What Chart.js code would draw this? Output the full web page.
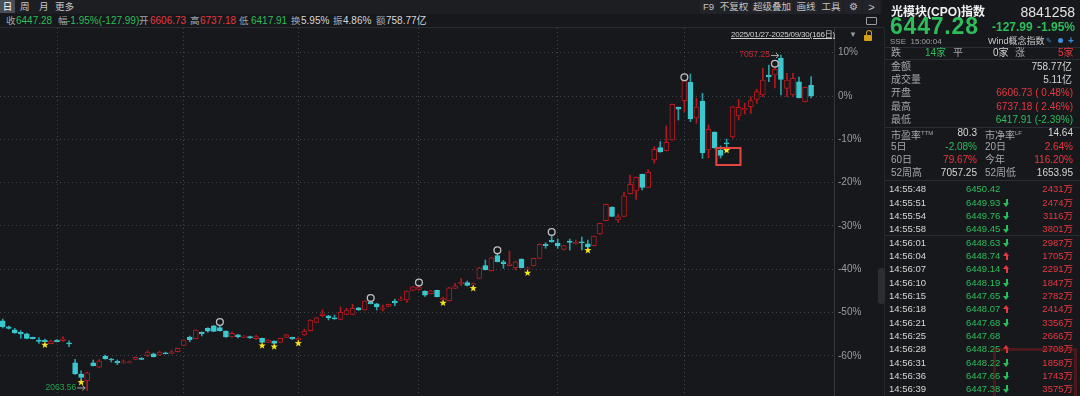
<!DOCTYPE html>
<html>
<head>
<meta charset="utf-8">
<script src="https://cdn.jsdelivr.net/npm/chart.js@4.4.1/dist/chart.umd.min.js"></script>
<style>
body { margin:0; width:1080px; height:396px; background:#16181c; overflow:hidden; position:relative;
  font-family: Arial, "Liberation Sans", "Noto Sans CJK SC", sans-serif; font-size:10px; color:#c8c8c8; }
.t { position:absolute; white-space:nowrap; line-height:12px; }
.red { color:#e8383f; } .grn { color:#2dbd5a; } .lab { color:#a4a6ab; } .val { color:#d6d6d6; }
.sep { position:absolute; height:1px; background:#2a2d33; }
.btn { position:absolute; top:0; height:14px; line-height:14px; background:#212328; color:#c4c4c4; text-align:center; font-size:9.5px; }
#wrap { position:absolute; left:0; top:28px; width:880px; height:368px; }
#trades .t { font-size:9.5px; }
.ar { position:absolute; width:0; height:0; border-left:3.5px solid transparent; border-right:3.5px solid transparent; }
.st { position:absolute; width:2px; height:4px; }
</style>
</head>
<body>
<!-- top bar -->
<div style="position:absolute;left:0;top:0;width:882px;height:14px;background:#1c1e22"></div>
<div class="t" style="left:0;top:0;width:15px;height:13px;line-height:13px;background:#4a4d55;color:#fff;text-align:center;font-size:9.5px">日</div>
<div class="t" style="left:20px;top:0;line-height:13px;font-size:9.5px">周</div>
<div class="t" style="left:39px;top:0;line-height:13px;font-size:9.5px">月</div>
<div class="t" style="left:55px;top:0;line-height:13px;font-size:9.5px">更多</div>
<div class="btn" style="left:700px;width:17px">F9</div>
<div class="btn" style="left:718px;width:32px">不复权</div>
<div class="btn" style="left:751px;width:42px">超级叠加</div>
<div class="btn" style="left:794px;width:24px">画线</div>
<div class="btn" style="left:819px;width:24px">工具</div>
<div class="btn" style="left:844px;width:18px;font-size:10px">&#9881;</div>
<div class="btn" style="left:863px;width:17px;font-size:11px">&gt;</div>
<div style="position:absolute;left:866px;top:17px;width:9px;height:6px;border:1px solid #9a9ca0;border-radius:1px"></div>

<div class="t lab" style="left:6px;top:15px;font-size:9.5px">收</div>
<div class="t grn" style="left:16px;top:15px">6447.28</div>
<div class="t lab" style="left:58px;top:15px;font-size:9.5px">幅</div>
<div class="t grn" style="left:67px;top:15px">-1.95%(-127.99)</div>
<div class="t lab" style="left:139px;top:15px;font-size:9.5px">开</div>
<div class="t red" style="left:150px;top:15px">6606.73</div>
<div class="t lab" style="left:190px;top:15px;font-size:9.5px">高</div>
<div class="t red" style="left:200px;top:15px">6737.18</div>
<div class="t lab" style="left:239px;top:15px;font-size:9.5px">低</div>
<div class="t grn" style="left:251px;top:15px">6417.91</div>
<div class="t lab" style="left:291px;top:15px;font-size:9.5px">换</div>
<div class="t val" style="left:301px;top:15px">5.95%</div>
<div class="t lab" style="left:333px;top:15px;font-size:9.5px">振</div>
<div class="t val" style="left:343px;top:15px">4.86%</div>
<div class="t lab" style="left:376px;top:15px;font-size:9.5px">额</div>
<div class="t val" style="left:386px;top:15px">758.77亿</div>
<div class="sep" style="left:0;top:27px;width:884px"></div>

<div id="wrap"><canvas id="canvas" width="880" height="368"></canvas></div>

<div class="t" style="left:731px;top:29px;font-size:8px;letter-spacing:-0.2px;color:#d2d2d2;text-decoration:underline">2025/01/27-2025/09/30(166日)</div>
<div class="t" style="left:849px;top:29px;font-size:8px;color:#9a9a9a">&#9660;</div>
<div style="position:absolute;left:864px;top:35px;width:8px;height:6px;background:#d4a017;border-radius:1px"></div>
<div style="position:absolute;left:866px;top:30px;width:4px;height:4px;border:1.5px solid #d4a017;border-bottom:none;border-radius:3px 3px 0 0"></div>

<!-- right panel -->
<div style="position:absolute;left:884px;top:28px;width:1px;height:368px;background:#24272c"></div>
<div style="position:absolute;left:878px;top:268px;width:7px;height:36px;background:#2c2e33;border-radius:3px"></div>
<div class="t" style="left:891px;top:5px;font-size:12px;line-height:14px;font-weight:bold;color:#f0f0f0">光模块(CPO)指数</div>
<div class="t" style="right:5px;top:4px;font-size:14px;line-height:16px;color:#e2e2e2">8841258</div>
<div class="t grn" style="left:890px;top:15px;font-size:23px;line-height:23px;font-weight:bold;letter-spacing:0.8px">6447.28</div>
<div class="t grn" style="left:992px;top:20px;font-size:12px;line-height:14px;font-weight:bold">-127.99</div>
<div class="t grn" style="right:5px;top:20px;font-size:12px;line-height:14px;font-weight:bold">-1.95%</div>
<div class="t" style="left:890px;top:37px;font-size:8px;line-height:10px;color:#a0a0a0">SSE&nbsp;&nbsp;15:00:04</div>
<div class="t" style="left:988px;top:36px;font-size:9px;line-height:11px;color:#c8c8c8">Wind概念指数</div>
<div class="t" style="left:1045px;top:37px;width:8px;height:8px;line-height:8px;font-size:7px;color:#3b8fe0;text-align:center">&#9998;</div>
<div style="position:absolute;left:1058px;top:38px;width:5px;height:5px;border-radius:3px;background:#3b8fe0"></div>
<div class="t" style="left:1068px;top:35px;font-size:10px;font-weight:bold;color:#3b8fe0">+</div>
<div class="sep" style="left:885px;top:47px;width:195px"></div>
<div class="t lab" style="left:891px;top:47px">跌</div>
<div class="t grn" style="left:925px;top:47px">14家</div>
<div class="t lab" style="left:953px;top:47px">平</div>
<div class="t val" style="left:993px;top:47px">0家</div>
<div class="t lab" style="left:1015px;top:47px">涨</div>
<div class="t red" style="left:1058px;top:47px">5家</div>
<div class="sep" style="left:885px;top:59px;width:195px"></div>
<div class="t lab" style="left:891px;top:61px">金额</div>
<div class="t val" style="right:8px;top:61px">758.77亿</div>
<div class="t lab" style="left:891px;top:74px">成交量</div>
<div class="t val" style="right:8px;top:74px">5.11亿</div>
<div class="t lab" style="left:891px;top:87px">开盘</div>
<div class="t red" style="right:7px;top:87px">6606.73 ( 0.48%)</div>
<div class="t lab" style="left:891px;top:101px">最高</div>
<div class="t red" style="right:7px;top:101px">6737.18 ( 2.46%)</div>
<div class="t lab" style="left:891px;top:114px">最低</div>
<div class="t grn" style="right:7px;top:114px">6417.91 (-2.39%)</div>
<div class="sep" style="left:885px;top:127px;width:195px"></div>
<div class="t lab" style="left:891px;top:127px">市盈率<sup style="font-size:6px">TTM</sup></div>
<div class="t val" style="right:103px;top:127px">80.3</div>
<div class="t lab" style="left:985px;top:127px">市净率<sup style="font-size:6px">LF</sup></div>
<div class="t val" style="right:7px;top:127px">14.64</div>
<div class="t lab" style="left:891px;top:141px">5日</div>
<div class="t grn" style="right:103px;top:141px">-2.08%</div>
<div class="t lab" style="left:985px;top:141px">20日</div>
<div class="t red" style="right:7px;top:141px">2.64%</div>
<div class="t lab" style="left:891px;top:154px">60日</div>
<div class="t red" style="right:103px;top:154px">79.67%</div>
<div class="t lab" style="left:985px;top:154px">今年</div>
<div class="t red" style="right:7px;top:154px">116.20%</div>
<div class="t lab" style="left:891px;top:167px">52周高</div>
<div class="t val" style="right:103px;top:167px">7057.25</div>
<div class="t lab" style="left:985px;top:167px">52周低</div>
<div class="t val" style="right:7px;top:167px">1653.95</div>
<div class="sep" style="left:885px;top:180px;width:195px"></div>
<div class="sep" style="left:885px;top:235px;width:195px"></div>
<div id="trades"></div>
<div style="position:absolute;left:993px;top:348px;width:78px;height:46px;border:3px solid rgba(150,28,28,0.4)"></div>

<script>
// trading days shown on the chart (index of each session)
var days = [];
for (var i = 0; i < 135; i++) { days.push(i); }

var openP = [3102,3012,2968,2929,2908,2855,2814,2814,2759,2814,
  2804,2774,2476,2308,2208,2476,2412,2576,2527,2497,
  2472,2476,2527,2542,2587,2610,2591,2625,2616,2640,
  2735,2859,2834,2929,2989,3027,2998,2948,2859,2893,
  2855,2864,2834,2840,2780,2800,2780,2855,2855,2814,
  2889,2953,3078,3176,3176,3146,3123,3197,3197,3295,
  3261,3376,3355,3272,3316,3395,3406,3410,3554,3566,
  3544,3504,3554,3414,3400,3584,3653,3668,3633,3733,
  3921,3846,4070,3980,3921,3891,4020,3872,3916,4031,
  4239,4303,4254,4165,4289,4244,4278,4248,4219,4393,
  4591,4795,4601,4656,4993,5033,5282,5088,5495,5678,
  5633,5792,6279,6378,6652,6120,6373,5644,5912,5644,
  5752,5837,6150,6239,6288,6398,6463,6760,6760,7009,
  6562,6463,6660,6363,6606.73];
var highP = [3127,3023,2989,2953,2919,2859,2849,2829,2814,2822,
  2864,2804,2527,2357,2338,2517,2524,2591,2542,2517,
  2517,2502,2566,2551,2655,2621,2651,2636,2658,2695,
  2819,2874,2968,2938,2998,3033,3038,2953,2938,2899,
  2881,2874,2889,2844,2819,2804,2844,2899,2859,2849,
  2978,3117,3152,3261,3182,3187,3310,3286,3346,3301,
  3400,3395,3361,3336,3350,3425,3459,3548,3614,3625,
  3548,3554,3559,3455,3599,3659,3733,3693,3663,3897,
  4006,4046,4105,4001,4140,3986,4025,3901,4035,4244,
  4263,4378,4318,4224,4318,4303,4348,4303,4367,4556,
  4839,4799,4686,5014,5271,5241,5286,5350,5693,5767,
  6001,6328,6284,6681,6775,6413,6488,6016,5916,5703,
  5807,6294,6398,6339,6437,6547,6860,6909,6884,7057.25,
  6786,6786,6730,6582,6737.18];
var lowP = [2993,2978,2914,2840,2829,2829,2765,2785,2755,2785,
  2795,2715,2301,2229,2063.56,2427,2405,2527,2487,2447,
  2467,2472,2521,2521,2566,2561,2587,2606,2613,2636,
  2730,2789,2829,2874,2929,2938,2948,2855,2855,2844,
  2849,2837,2825,2774,2774,2759,2774,2849,2822,2810,
  2884,2948,3072,3161,3112,3123,3117,3191,3191,3257,
  3257,3350,3261,3246,3310,3325,3400,3376,3548,3554,
  3465,3499,3455,3410,3395,3578,3623,3618,3629,3727,
  3857,3842,3976,3882,3916,3857,3887,3857,3912,4025,
  4180,4269,4180,4155,4155,4239,4155,4194,4214,4388,
  4586,4650,4567,4650,4988,4909,5048,5082,5446,5609,
  5629,5788,6090,6214,6065,6041,5520,5524,5669,5524,
  5684,5822,6090,6180,6190,6339,6437,6660,6567,6462,
  6437,6437,6418,6358,6417.91];
var closeP = [3012,2989,2919,2904,2840,2834,2795,2789,2800,2789,
  2834,2755,2308,2259,2327,2432,2502,2536,2517,2476,
  2491,2491,2557,2527,2636,2566,2636,2610,2640,2691,
  2814,2819,2963,2908,2948,2944,2953,2859,2914,2864,
  2874,2844,2864,2780,2814,2765,2840,2893,2829,2840,
  2948,3112,3146,3206,3146,3127,3227,3261,3286,3261,
  3395,3355,3306,3295,3346,3365,3425,3544,3608,3603,
  3484,3548,3459,3435,3593,3623,3674,3629,3653,3891,
  3861,4040,3980,3950,3950,3980,3891,3891,4031,4239,
  4219,4274,4214,4219,4269,4269,4263,4199,4363,4552,
  4835,4656,4650,4963,5133,5237,5088,5311,5654,5614,
  5758,6324,6250,6675,6105,6284,5603,5952,5673,5562,
  5737,6288,6279,6264,6378,6512,6686,6735,6845,6696,
  6686,6711,6423,6575.27,6447.28];

var baseClose = 6447.28;   // 0% line
var tickPct = [10, 0, -10, -20, -30, -40, -50, -60];
var tickLabels = ['10%', '0%', '-10%', '-20%', '-30%', '-40%', '-50%', '-60%'];
var monthStarts = [9, 30, 49, 69, 92, 113];
var starDays = [7, 13, 43, 45, 49, 73, 78, 87, 97, 120];
var circleDays = [36, 61, 69, 82, 91, 113, 128];
var boxDays = [118.3, 122.3];
var boxPrices = [5673, 5420];

var tradeTimes = ['14:55:48','14:55:51','14:55:54','14:55:58','14:56:01','14:56:04','14:56:07','14:56:10',
  '14:56:15','14:56:18','14:56:21','14:56:25','14:56:28','14:56:31','14:56:36','14:56:39'];
var tradePrices = ['6450.42','6449.93','6449.76','6449.45','6448.63','6448.74','6449.14','6448.19',
  '6447.65','6448.07','6447.68','6447.68','6448.25','6448.22','6447.66','6447.38'];
var tradeDirs = [0,-1,-1,-1,-1,1,1,-1,-1,1,-1,0,1,-1,-1,-1];
var tradeVols = ['2431万','2474万','3116万','3801万','2987万','1705万','2291万','1847万',
  '2782万','2414万','3356万','2666万','2708万','1858万','1743万','3575万'];

var BG = '#16181c';
var RED = '#b3191f';
var CYAN = '#3cc8cf';
var CYAN_WICK = '#2aa0a6';

// quote list on the right
var html = '';
for (var k = 0; k < tradeTimes.length; k++) {
  var rowTop = Math.round(189.3 + k * 13.33 - 6);
  html += '<div class="t val" style="left:889px;top:' + rowTop + 'px">' + tradeTimes[k] + '</div>';
  html += '<div class="t grn" style="left:966px;top:' + rowTop + 'px">' + tradePrices[k] + '</div>';
  if (tradeDirs[k] > 0) {
    html += '<div class="ar" style="left:1003px;top:' + (rowTop + 2) + 'px;border-bottom:4px solid #e8383f"></div>';
    html += '<div class="st" style="left:1005.5px;top:' + (rowTop + 6) + 'px;background:#e8383f"></div>';
  } else if (tradeDirs[k] < 0) {
    html += '<div class="st" style="left:1005.5px;top:' + (rowTop + 2) + 'px;background:#2dbd5a"></div>';
    html += '<div class="ar" style="left:1003px;top:' + (rowTop + 6) + 'px;border-top:4px solid #2dbd5a"></div>';
  }
  html += '<div class="t red" style="right:7px;top:' + rowTop + 'px">' + tradeVols[k] + '</div>';
}
document.getElementById('trades').innerHTML = html;

function isUp(i) { return closeP[i] >= openP[i]; }

function drawStar(ctx, cx, cy, r1, r2) {
  ctx.beginPath();
  for (var k = 0; k < 10; k++) {
    var r = k % 2 ? r2 : r1;
    var a = -Math.PI / 2 + k * Math.PI / 5;
    ctx.lineTo(cx + r * Math.cos(a), cy + r * Math.sin(a));
  }
  ctx.closePath();
  ctx.fillStyle = '#f4e41c';
  ctx.fill();
}

function arrowLabel(ctx, text, color, px, py) {
  ctx.fillStyle = color;
  ctx.font = '8.5px Arial';
  ctx.textAlign = 'right';
  ctx.textBaseline = 'middle';
  ctx.fillText(text, px - 11, py);
  ctx.strokeStyle = '#a8a8a8';
  ctx.lineWidth = 1;
  ctx.beginPath();
  ctx.moveTo(px - 10, py + 0.5);
  ctx.lineTo(px - 2, py + 0.5);
  ctx.moveTo(px - 5, py - 2);
  ctx.lineTo(px - 2, py + 0.5);
  ctx.lineTo(px - 5, py + 3);
  ctx.stroke();
}

var marks = {
  id: 'marks',
  afterDatasetsDraw: function(chart) {
    var ctx = chart.ctx, xs = chart.scales.x, ys = chart.scales.y;
    ctx.save();
    circleDays.forEach(function(d) {
      ctx.beginPath();
      ctx.arc(xs.getPixelForValue(d), ys.getPixelForValue(highP[d]) - 3, 3.4, 0, Math.PI * 2);
      ctx.strokeStyle = '#c0c0c0';
      ctx.lineWidth = 1.3;
      ctx.stroke();
    });
    starDays.forEach(function(d) {
      drawStar(ctx, xs.getPixelForValue(d), ys.getPixelForValue(lowP[d]) + 3, 3.8, 1.6);
    });
    // highest high and lowest low of the range
    var hi = 0, lo = 0;
    for (var i = 1; i < days.length; i++) {
      if (highP[i] > highP[hi]) hi = i;
      if (lowP[i] < lowP[lo]) lo = i;
    }
    arrowLabel(ctx, highP[hi].toFixed(2), '#c9282e', xs.getPixelForValue(hi), ys.getPixelForValue(highP[hi]));
    arrowLabel(ctx, lowP[lo].toFixed(2), '#25a24c', xs.getPixelForValue(lo), ys.getPixelForValue(lowP[lo]) - 3);
    // highlight box
    var x1 = xs.getPixelForValue(boxDays[0]), x2 = xs.getPixelForValue(boxDays[1]);
    var y1 = ys.getPixelForValue(boxPrices[0]), y2 = ys.getPixelForValue(boxPrices[1]);
    ctx.strokeStyle = '#e5473f';
    ctx.lineWidth = 2;
    ctx.strokeRect(x1, y1, x2 - x1, y2 - y1);
    ctx.restore();
  }
};

var ctx = document.getElementById('canvas').getContext('2d');
var chart = new Chart(ctx, {
  type: 'bar',
  data: {
    datasets: [{
      // candle bodies
      data: days.map(function(i) { return { x: i, y: [Math.min(openP[i], closeP[i]), Math.max(openP[i], closeP[i])] }; }),
      order: 0,
      grouped: false,
      barThickness: 5,
      minBarLength: 1,
      borderWidth: 1,
      borderSkipped: false,
      backgroundColor: function(c) { return isUp(c.dataIndex) ? BG : CYAN; },
      borderColor: function(c) { return isUp(c.dataIndex) ? RED : CYAN; }
    }, {
      // wicks
      data: days.map(function(i) { return { x: i, y: [lowP[i], highP[i]] }; }),
      order: 1,
      grouped: false,
      barThickness: 1,
      borderWidth: 0,
      backgroundColor: function(c) { return isUp(c.dataIndex) ? RED : CYAN_WICK; }
    }]
  },
  options: {
    responsive: false,
    animation: false,
    devicePixelRatio: 1,
    events: [],
    layout: { padding: 0 },
    plugins: { legend: { display: false }, tooltip: { enabled: false } },
    scales: {
      x: {
        type: 'linear',
        min: -0.45,
        max: 137.8,
        offset: false,
        afterBuildTicks: function(s) { s.ticks = monthStarts.map(function(v) { return { value: v }; }); },
        afterFit: function(s) { s.height = 0; },
        ticks: { display: false },
        grid: { color: 'rgba(105,110,120,0.55)', drawTicks: false, offset: false },
        border: { display: false, dash: [1, 3] }
      },
      y: {
        position: 'right',
        min: 1981,
        max: 7460,
        afterBuildTicks: function(s) { s.ticks = tickPct.map(function(p) { return { value: baseClose * (1 + p / 100) }; }); },
        afterFit: function(s) { s.width = 46; s.paddingTop = 0; s.paddingBottom = 0; },
        ticks: {
          padding: 4,
          color: '#9a9ca2',
          font: { size: 10, family: 'Arial' },
          autoSkip: false,
          callback: function(v, i) { return tickLabels[i]; }
        },
        grid: { color: 'rgba(105,110,120,0.55)', drawTicks: false },
        border: { display: true, color: '#33363c', dash: [1, 3] }
      }
    }
  },
  plugins: [marks]
});
</script>
</body>
</html>
